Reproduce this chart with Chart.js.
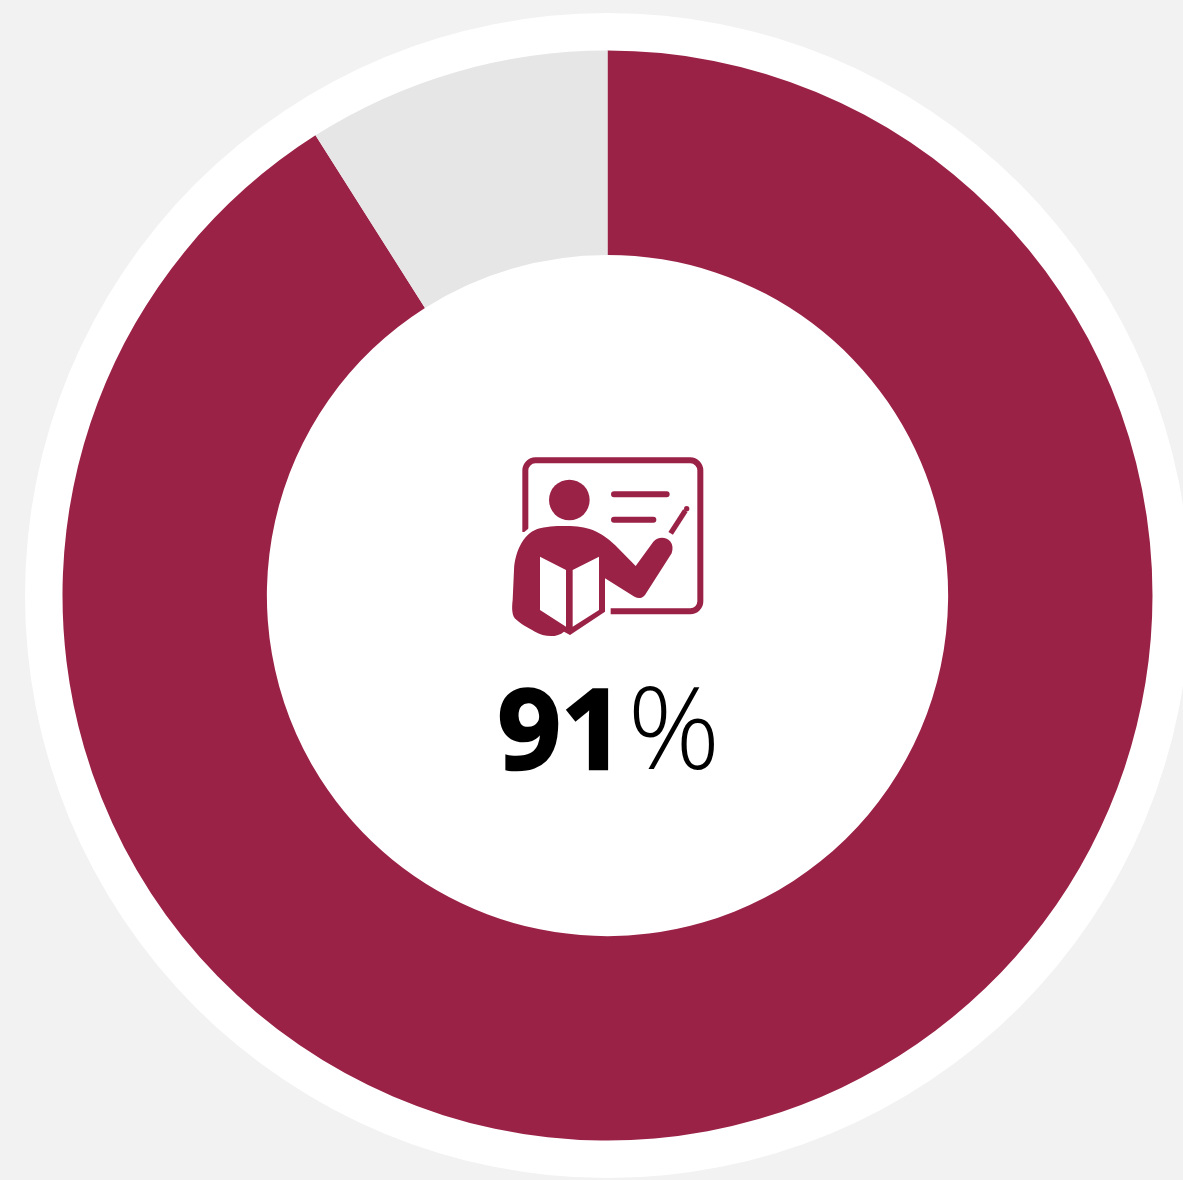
<!DOCTYPE html>
<html>
<head>
<meta charset="utf-8">
<script src="https://cdn.jsdelivr.net/npm/chart.js@4/dist/chart.umd.min.js"></script>
<style>
  html, body { margin: 0; padding: 0; background: #f2f2f2; overflow: hidden; }
  #wrap { position: relative; width: 1183px; height: 1180px; }
  #icon { position: absolute; left: 490px; top: 440px; width: 240px; height: 210px; }
  #label { position: absolute; left: 409px; width: 400px; top: 648px; text-align: center; font-family: "Open Sans"; font-size: 111px; line-height: 154px; color: #000; white-space: nowrap; }
  #label b { font-weight: 700; -webkit-text-stroke: 2.5px #000; }
  #label span { font-weight: 300; font-size: 115px; margin-left: 3px; }
</style>
</head>
<body>
<div id="wrap">
  <canvas id="myGraph" width="1183" height="1180"></canvas>

  <svg id="icon" viewBox="0 0 720 630">
    <g fill="none" stroke="#9b2247" stroke-width="18">
      <path d="M106 276V91A30 30 0 0 1 136 61H601A30 30 0 0 1 631 91V484A30 30 0 0 1 601 514H362"/>
      <path d="M372 163H530M372 239H490" stroke-linecap="round"/>
      <path d="M542 280L586 212" stroke-width="16"/>
    </g>
    <circle cx="590" cy="206" r="8" fill="#9b2247"/>
    <circle cx="238" cy="180" r="61" fill="#9b2247"/>
    <path fill="#fff" d="M88 288L125 258L125 300Z"/>
    <path fill="#9b2247" d="M150 265C180 258 205 258 230 258C290 258 330 272 375 315L437 378L490 305C510 280 560 295 545 340L465 465C450 482 435 472 425 465L345 415V515L240 585L222 575C200 595 160 590 135 575C115 563 100 558 80 540C65 530 65 505 68 480L72 390C75 330 105 275 150 265Z"/>
    <path fill="#fff" d="M150 350L228 390V560L150 510ZM248 390L327 350V510L248 560Z"/>
  </svg>

  <div id="label"><b>91</b><span>%</span></div>
</div>

<script>
const categories = ["Yes", "Other"];
const shares = [91, 9];
const sliceColors = ["#9b2247", "#e6e6e6"];

// white disc behind the ring
const whiteDisc = {
  id: "whiteDisc",
  beforeDatasetsDraw(chart) {
    const arc = chart.getDatasetMeta(0).data[0];
    const ctx = chart.ctx;
    ctx.save();
    ctx.fillStyle = "#fff";
    ctx.beginPath();
    ctx.arc(arc.x, arc.y, arc.outerRadius + 37.5, 0, Math.PI * 2);
    ctx.fill();
    ctx.restore();
  },
};

new Chart(document.getElementById("myGraph"), {
  type: "doughnut",
  data: {
    labels: categories,
    datasets: [
      {
        data: shares,
        backgroundColor: sliceColors,
        borderWidth: 0,
        hoverOffset: 0,
      },
    ],
  },
  options: {
    responsive: false,
    animation: false,
    cutout: "62.5%",
    layout: { padding: { left: 62.5, right: 30.5, top: 50.5, bottom: 39.5 } },
    plugins: {
      legend: { display: false },
      tooltip: { enabled: false },
    },
  },
  plugins: [whiteDisc],
});
</script>
</body>
</html>
